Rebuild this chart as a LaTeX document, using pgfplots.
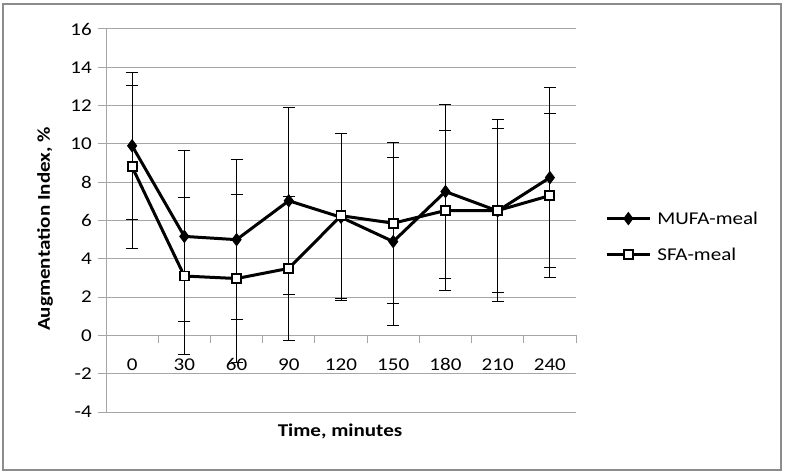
\documentclass[border=0pt]{standalone}
\usepackage{fontspec}
\setmainfont{Carlito}[FakeStretch=1.17]
\usepackage{pgfplots}
\pgfplotsset{compat=1.18}
\usepackage{pgfplotstable}
\definecolor{gridgray}{HTML}{A6A6A6}
\definecolor{framegray}{HTML}{8C8C8C}
\pgfplotstableread{
x y e
0 9.90 3.85
1 5.17 4.46
2 5.00 4.18
3 7.03 4.88
4 6.17 4.35
5 4.90 4.40
6 7.51 4.56
7 6.50 4.75
8 8.24 4.70
}\mufa
\pgfplotstableread{
x y e
0 8.80 4.25
1 3.10 4.10
2 2.97 4.40
3 3.50 3.75
4 6.25 4.30
5 5.86 4.20
6 6.52 4.16
7 6.52 4.30
8 7.30 4.30
}\sfa
\begin{document}
\begin{tikzpicture}[font=\fontsize{18}{21}\selectfont]
\path (0pt,0pt) rectangle (785pt,-476pt);
\draw[framegray, line width=2pt] (3pt,-4pt) rectangle (781pt,-470pt);
\begin{axis}[
  at={(106pt,-412pt)}, anchor=south west,
  scale only axis, width=470pt, height=383pt,
  xmin=-0.5, xmax=8.5, ymin=-4, ymax=16,
  axis x line=middle, axis y line=left,
  axis line style={draw=gridgray, line width=1pt, -},
  xtick={0,...,8},
  xticklabels={0,30,60,90,120,150,180,210,240},
  minor xtick={-0.5,0.5,...,8.5},
  major x tick style={draw=none},
  minor x tick style={draw=gridgray, line width=1pt},
  minor tick length=8pt,
  major tick length=8pt,
  tick align=outside,
  ytick={-4,-2,...,16},
  y tick style={draw=gridgray, line width=1pt},
  ymajorgrids,
  grid style={draw=gridgray, line width=1pt},
  /pgf/number format/assume math mode=true,
  xticklabel style={inner sep=0pt, anchor=north, yshift=-15pt},
  yticklabel style={inner sep=0pt, anchor=east, xshift=-6pt},
  legend style={draw=none, fill=none, at={(1.062,0.458)}, anchor=west,
    row sep=20pt, column sep=5pt, inner sep=0pt, font=\fontsize{18}{21}\selectfont,
    nodes={inner sep=1pt, anchor=west}},
  legend cell align=left,
  legend image code/.code={\draw[mark repeat=2,mark phase=2,#1] plot coordinates {(0pt,0pt) (21.5pt,0pt) (43pt,0pt)};},
  error bars/y dir=both, error bars/y explicit,
  error bars/error bar style={black, line width=1pt},
  error bars/error mark options={black, line width=1pt, mark size=6pt, rotate=90},
]
\addplot[black, line width=3pt, mark=diamond*, mark size=6pt, mark options={solid, line width=1pt, fill=black}]
  table[x=x, y=y, y error=e] {\mufa};
\addlegendentry{MUFA-meal}
\addplot[black, line width=3pt, mark=square*, mark size=4.5pt, mark options={solid, line width=1.8pt, fill=white}]
  table[x=x, y=y, y error=e] {\sfa};
\addlegendentry{SFA-meal}
\end{axis}
\node[font=\bfseries\fontsize{18}{21}\selectfont] at (340pt,-431pt) {Time, minutes};
\node[font=\bfseries\fontsize{18}{21}\selectfont, rotate=90] at (45pt,-229pt) {Augmentation Index, \%};
\end{tikzpicture}
\end{document}
